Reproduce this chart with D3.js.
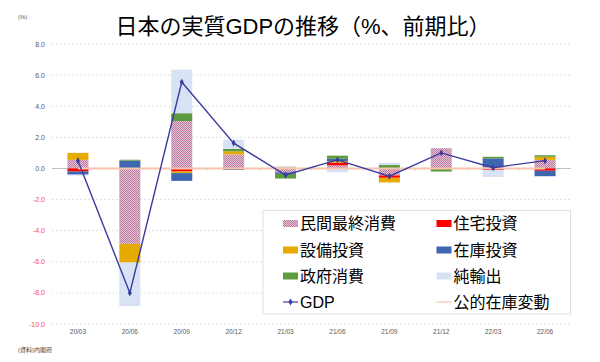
<!DOCTYPE html>
<html><head><meta charset="utf-8">
<script src="https://cdn.jsdelivr.net/npm/d3@7/dist/d3.min.js"></script>
<style>
html,body{margin:0;padding:0;background:#fff;}
svg{display:block;font-family:"Liberation Sans","Noto Sans CJK JP",sans-serif;}
</style></head>
<body><svg id="c" width="600" height="362"></svg>
<script>
const categories = ["20/03","20/06","20/09","20/12","21/03","21/06","21/09","21/12","22/03","22/06"];
const privateConsumption = [0.55,-4.85,3.05,0.9,-0.25,0.2,-0.45,1.3,0.1,0.55];
const housing            = [-0.2,0.0,-0.2,0.0,0.0,0.17,-0.15,0.0,-0.1,-0.15];
const capex              = [0.45,-1.2,-0.1,0.2,0.07,0.1,-0.3,0.0,0.0,0.2];
const inventory          = [-0.2,0.5,-0.5,-0.1,-0.1,0.15,0.0,0.0,0.55,-0.35];
const government         = [0.0,0.06,0.5,0.15,-0.3,0.2,0.22,-0.2,0.1,0.1];
const netExports         = [-0.05,-2.8,2.8,0.6,0.1,-0.25,0.15,0.0,-0.45,0.0];
const gdp                = [0.5,-8.0,5.55,1.63,-0.42,0.55,-0.5,1.0,0.05,0.5];
const publicInventory    = [0,0,0,0,0,0,0,0,0,0];
const yTicks = [8,6,4,2,0,-2,-4,-6,-8,-10];

const series = [
  {name:"民間最終消費", values:privateConsumption, fill:"url(#hatch)"},
  {name:"住宅投資", values:housing, fill:"#ff0000"},
  {name:"設備投資", values:capex, fill:"#e6aa00"},
  {name:"在庫投資", values:inventory, fill:"#3f67b1"},
  {name:"政府消費", values:government, fill:"#5c9b3e"},
  {name:"純輸出", values:netExports, fill:"#d7e2f4"}
];

const svg = d3.select("#c");
const defs = svg.append("defs");
const pat = defs.append("pattern").attr("id","hatch").attr("patternUnits","userSpaceOnUse")
  .attr("width",2).attr("height",2);
pat.append("rect").attr("width",2).attr("height",2).attr("fill","#e4c3d6");
pat.append("rect").attr("width",1).attr("height",1).attr("fill","#bb7a9e");
pat.append("rect").attr("x",1).attr("y",1).attr("width",1).attr("height",1).attr("fill","#bb7a9e");

const x = d3.scaleBand().domain(categories).range([52,571]).padding(0);
const y = d3.scaleLinear().domain([-10,8]).range([324,44]);
const bw = x.bandwidth()*0.405;

// title
svg.append("text").attr("x",303).attr("y",34).attr("text-anchor","middle")
  .attr("font-size",22).attr("fill","#000").text("日本の実質GDPの推移（%、前期比）");
svg.append("text").attr("x",18).attr("y",19).attr("font-size",6).attr("fill","#595959").text("(%)");

// grid
svg.append("g").selectAll("line").data(yTicks.filter(d=>d!==0)).join("line")
  .attr("x1",52).attr("x2",571).attr("y1",d=>y(d)).attr("y2",d=>y(d))
  .attr("stroke","#d9d9d9").attr("stroke-width",0.8).attr("stroke-dasharray","2,2");
svg.append("g").selectAll("text").data(yTicks).join("text")
  .attr("x",45).attr("y",d=>y(d)+2.5).attr("text-anchor","end").attr("font-size",7)
  .attr("fill",d=>d<0?"#ff4a4a":"#595959").text(d=>d.toFixed(1));

// zero axis
svg.append("line").attr("x1",52).attr("x2",571).attr("y1",y(0)).attr("y2",y(0))
  .attr("stroke","#bfbfbf").attr("stroke-width",1);
svg.append("g").selectAll("line").data(categories.slice(1)).join("line")
  .attr("x1",d=>x(d)).attr("x2",d=>x(d)).attr("y1",y(0)).attr("y2",y(0)+2)
  .attr("stroke","#bfbfbf").attr("stroke-width",0.8);

// stacked bars
const rects = [];
categories.forEach((c,i)=>{
  let pos=0, neg=0;
  series.forEach(s=>{
    const v=s.values[i];
    if(v>=0){ rects.push({c, y0:pos, y1:pos+v, fill:s.fill}); pos+=v; }
    else { rects.push({c, y0:neg+v, y1:neg, fill:s.fill}); neg+=v; }
  });
});
svg.append("g").selectAll("rect").data(rects.filter(r=>r.y1!==r.y0)).join("rect")
  .attr("x",d=>x(d.c)+x.bandwidth()/2-bw/2).attr("width",bw)
  .attr("y",d=>y(d.y1)).attr("height",d=>y(d.y0)-y(d.y1))
  .attr("fill",d=>d.fill);

// public inventory line
const line = d3.line().x((d,i)=>x(categories[i])+x.bandwidth()/2).y(d=>y(d));
svg.append("path").datum(publicInventory).attr("d",line).attr("fill","none")
  .attr("stroke","#f7c4ad").attr("stroke-width",2);

// GDP line
svg.append("path").datum(gdp).attr("d",line).attr("fill","none")
  .attr("stroke","#3b3b9e").attr("stroke-width",1.4);
const diamond = d3.symbol().type(d3.symbolDiamond).size(14);
svg.append("g").selectAll("path").data(gdp).join("path")
  .attr("transform",(d,i)=>`translate(${x(categories[i])+x.bandwidth()/2},${y(d)})`)
  .attr("d",diamond).attr("fill","#3b3b9e");

// x labels
svg.append("g").selectAll("text").data(categories).join("text")
  .attr("x",d=>x(d)+x.bandwidth()/2).attr("y",334).attr("text-anchor","middle")
  .attr("font-size",6.5).attr("fill","#595959").text(d=>d);

svg.append("text").attr("x",18).attr("y",352).attr("font-size",6).attr("fill","#404040").text("(資料)内閣府");

// legend
const lg = svg.append("g");
lg.append("rect").attr("x",263).attr("y",210.5).attr("width",307.5).attr("height",103.5)
  .attr("fill","#fff").attr("stroke","#d9d9d9").attr("stroke-width",0.8);
const legendItems = [
  {name:"民間最終消費", type:"rect", fill:"url(#hatch)", col:0, row:0},
  {name:"住宅投資", type:"rect", fill:"#ff0000", col:1, row:0},
  {name:"設備投資", type:"rect", fill:"#e6aa00", col:0, row:1},
  {name:"在庫投資", type:"rect", fill:"#3f67b1", col:1, row:1},
  {name:"政府消費", type:"rect", fill:"#5c9b3e", col:0, row:2},
  {name:"純輸出", type:"rect", fill:"#d7e2f4", col:1, row:2},
  {name:"GDP", type:"gdp", fill:"#3b3b9e", col:0, row:3},
  {name:"公的在庫変動", type:"line", fill:"#f7c4ad", col:1, row:3}
];
const colX=[283,436.5], rowY=[223.5,250,276,302];
legendItems.forEach(it=>{
  const gx=colX[it.col], gy=rowY[it.row];
  if(it.type==="rect"){
    lg.append("rect").attr("x",gx).attr("y",gy-3.5).attr("width",15).attr("height",7).attr("fill",it.fill);
  } else if(it.type==="gdp"){
    lg.append("line").attr("x1",gx).attr("x2",gx+15).attr("y1",gy).attr("y2",gy).attr("stroke",it.fill).attr("stroke-width",1.2);
    lg.append("path").attr("transform",`translate(${gx+7.5},${gy})`).attr("d",diamond).attr("fill",it.fill);
  } else {
    lg.append("line").attr("x1",gx).attr("x2",gx+15).attr("y1",gy).attr("y2",gy).attr("stroke",it.fill).attr("stroke-width",1.2);
  }
  lg.append("text").attr("x",gx+17).attr("y",gy+5.5).attr("font-size",16).attr("fill","#000").text(it.name);
});
</script></body></html>
